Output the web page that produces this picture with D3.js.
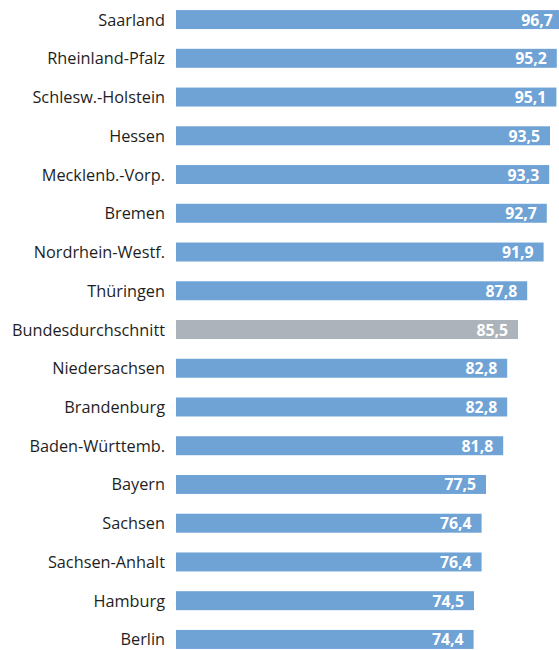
<!DOCTYPE html>
<html>
<head>
<meta charset="utf-8">
<script src="https://cdn.jsdelivr.net/npm/d3@7"></script>
<style>
  body { margin: 0; background: #fff; }
</style>
</head>
<body>
<svg id="lienzo" width="559" height="650"></svg>
<script>
// Daten
const laender = ['Saarland', 'Rheinland-Pfalz', 'Schlesw.-Holstein', 'Hessen', 'Mecklenb.-Vorp.',
    'Bremen', 'Nordrhein-Westf.', 'Thüringen', 'Bundesdurchschnitt', 'Niedersachsen',
    'Brandenburg', 'Baden-Württemb.', 'Bayern', 'Sachsen', 'Sachsen-Anhalt', 'Hamburg', 'Berlin'];
const werte = [96.7, 95.2, 95.1, 93.5, 93.3, 92.7, 91.9, 87.8, 85.5, 82.8, 82.8, 81.8, 77.5, 76.4, 76.4, 74.5, 74.4];
const durchschnitt = 'Bundesdurchschnitt';

const svg = d3.select('#lienzo');

const x = d3.scaleLinear().domain([0, 100]).range([176, 576]);
const y = d3.scaleBand()
    .domain(laender)
    .range([0, 659])
    .paddingInner(0.51)
    .paddingOuter(0.26);

const fmt = v => d3.format('.1f')(v).replace('.', ',');

// Balken
svg.selectAll('rect')
    .data(laender)
    .enter()
    .append('rect')
    .attr('x', x(0))
    .attr('y', d => y(d))
    .attr('width', (d, i) => x(werte[i]) - x(0))
    .attr('height', y.bandwidth())
    .attr('fill', d => d === durchschnitt ? '#adb3ba' : '#6fa3d5');

// Beschriftung links
svg.selectAll('text.label')
    .data(laender)
    .enter()
    .append('text')
    .attr('class', 'label')
    .attr('x', 165)
    .attr('y', d => y(d) + y.bandwidth() / 2)
    .attr('text-anchor', 'end')
    .attr('dominant-baseline', 'central')
    .attr('font-family', 'Open Sans, sans-serif')
    .attr('font-size', '16.3px')
    .attr('fill', '#1e1e1e')
    .text(d => d);

// Werte im Balken
svg.selectAll('text.wert')
    .data(laender)
    .enter()
    .append('text')
    .attr('class', 'wert')
    .attr('x', (d, i) => x(werte[i]) - 10)
    .attr('y', d => y(d) + y.bandwidth() / 2)
    .attr('text-anchor', 'end')
    .attr('dominant-baseline', 'central')
    .attr('font-family', 'Open Sans, sans-serif')
    .attr('font-weight', 'bold')
    .attr('font-size', '15.8px')
    .attr('fill', '#fff')
    .text((d, i) => fmt(werte[i]));
</script>
</body>
</html>
